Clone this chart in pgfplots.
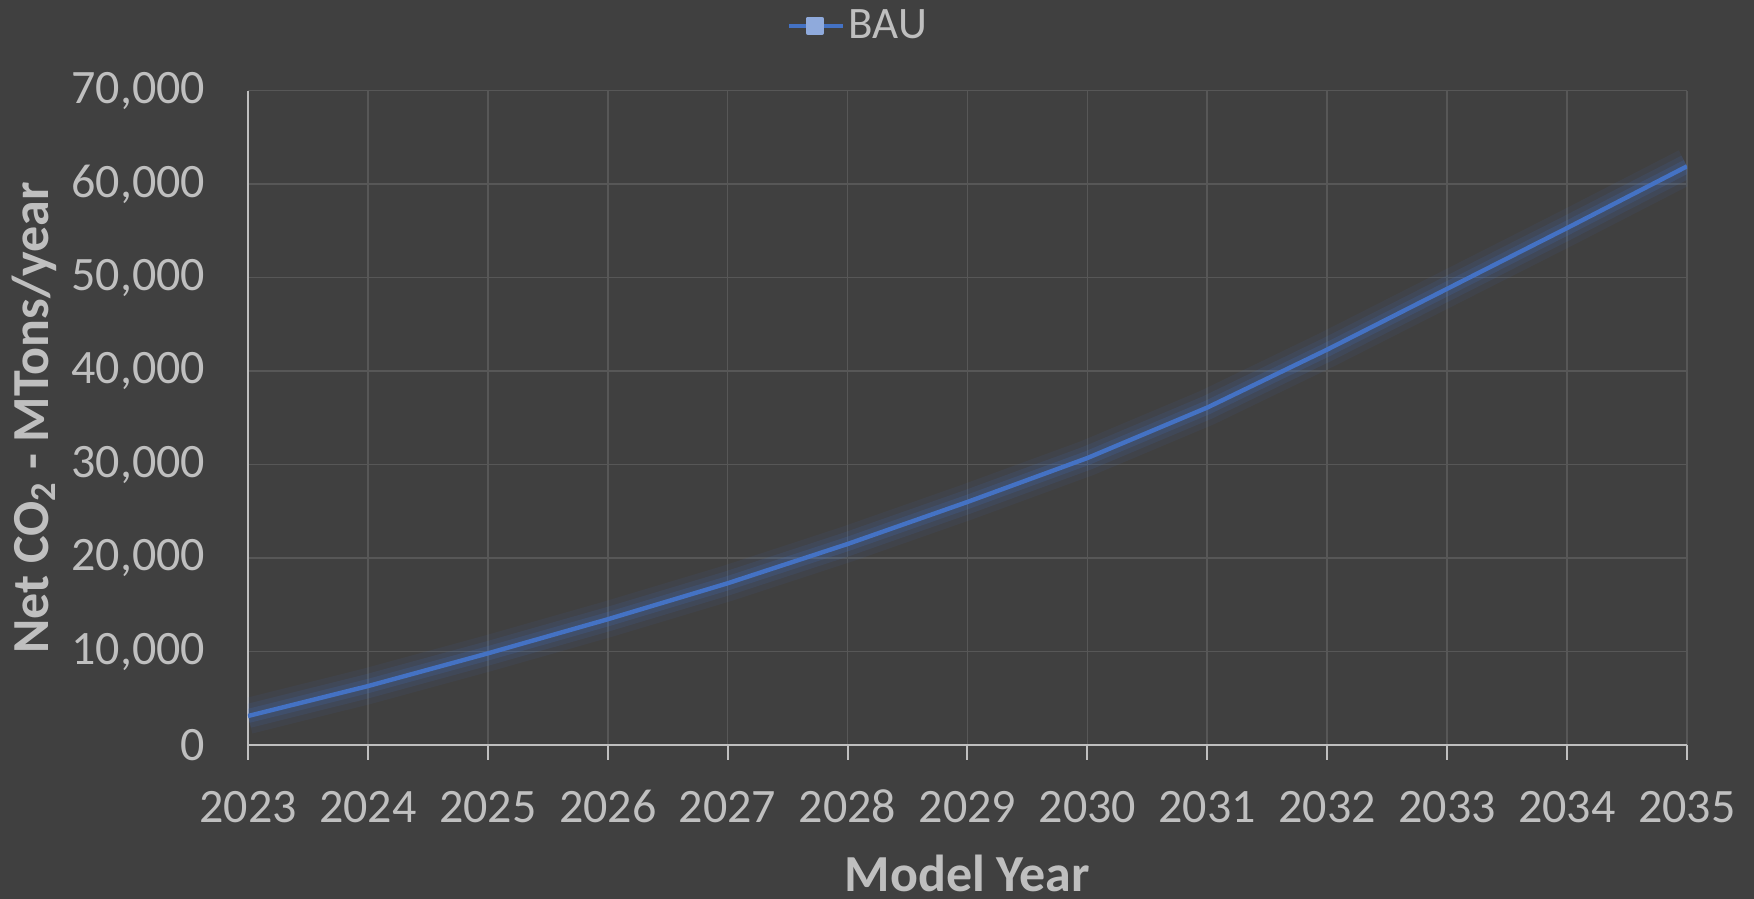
\documentclass[border=0pt]{standalone}
\usepackage{fontspec}
\setmainfont{Carlito}
\usepackage{pgfplots}
\usepackage{pgfplotstable}
\pgfplotsset{compat=1.18}
\definecolor{bg}{HTML}{404040}
\definecolor{txt}{HTML}{BFBFBF}
\definecolor{grd}{HTML}{575757}
\definecolor{bau}{HTML}{4472C4}
\definecolor{baumark}{HTML}{8FAADC}
\pgfplotstableread{
year val
2023 3100
2024 6300
2025 9800
2026 13450
2027 17300
2028 21500
2029 26000
2030 30700
2031 36100
2032 42300
2033 48800
2034 55300
2035 61900
}\baudata
\begin{document}
\begin{tikzpicture}
\fill[bg] (-124bp,-77bp) rectangle (753bp,372.5bp);
\begin{axis}[
  at={(0,0)}, anchor=south west,
  scale only axis, width=719.5bp, height=327.2bp,
  xmin=2023, xmax=2035, ymin=0, ymax=70000,
  xtick={2023,...,2035}, ytick={0,10000,...,70000},
  scaled y ticks=false,
  axis x line*=bottom, axis y line*=left,
  axis line style={draw=txt, line width=1bp},
  grid=major, grid style={draw=grd, line width=0.8bp},
  tick align=outside, major tick length=7.3bp,
  xtick style={draw=txt, line width=1bp},
  ytick style={draw=none},
  tick label style={font=\fontsize{24bp}{28bp}\selectfont, text=txt, inner sep=0pt},
  /pgf/number format/assume math mode=true,
  xticklabel style={/pgf/number format/1000 sep={}, anchor=base, yshift=-31.4bp},
  yticklabel style={/pgf/number format/1000 sep={,}, anchor=east, xshift=-14bp},
  xlabel={Model Year},
  ylabel={Net CO\textsubscript{2} - MTons/year},
  label style={font=\bfseries\fontsize{26bp}{30bp}\selectfont, text=txt, inner sep=0pt},
  xlabel style={at={(axis description cs:0.5,-0.1965)}, anchor=center},
  ylabel style={at={(axis description cs:-0.1487,0.5)}, anchor=center},
  legend style={draw=none, fill=none, text=txt, font=\fontsize{22.5bp}{26bp}\selectfont,
    at={(axis description cs:0.4246,1.099)}, anchor=center, inner sep=0pt},
  legend image code/.code={
    \draw[bau, line width=2bp] (0bp,0bp) -- (27bp,0bp);
    \fill[baumark] (9.5bp,-3.5bp) rectangle (16.5bp,3.5bp);
  },
]
\addplot[forget plot, bau, opacity=0.08, line width=18bp, line join=round] table[x=year,y=val] {\baudata};
\addplot[forget plot, bau, opacity=0.12, line width=12bp, line join=round] table[x=year,y=val] {\baudata};
\addplot[forget plot, bau, opacity=0.18, line width=7bp, line join=round] table[x=year,y=val] {\baudata};
\addplot[bau, line width=2.2bp, line join=round, mark=none] table[x=year,y=val] {\baudata};
\addlegendentry{BAU}
\end{axis}
\pgfresetboundingbox
\path (-124bp,-77bp) rectangle (753bp,372.5bp);
\end{tikzpicture}
\end{document}
